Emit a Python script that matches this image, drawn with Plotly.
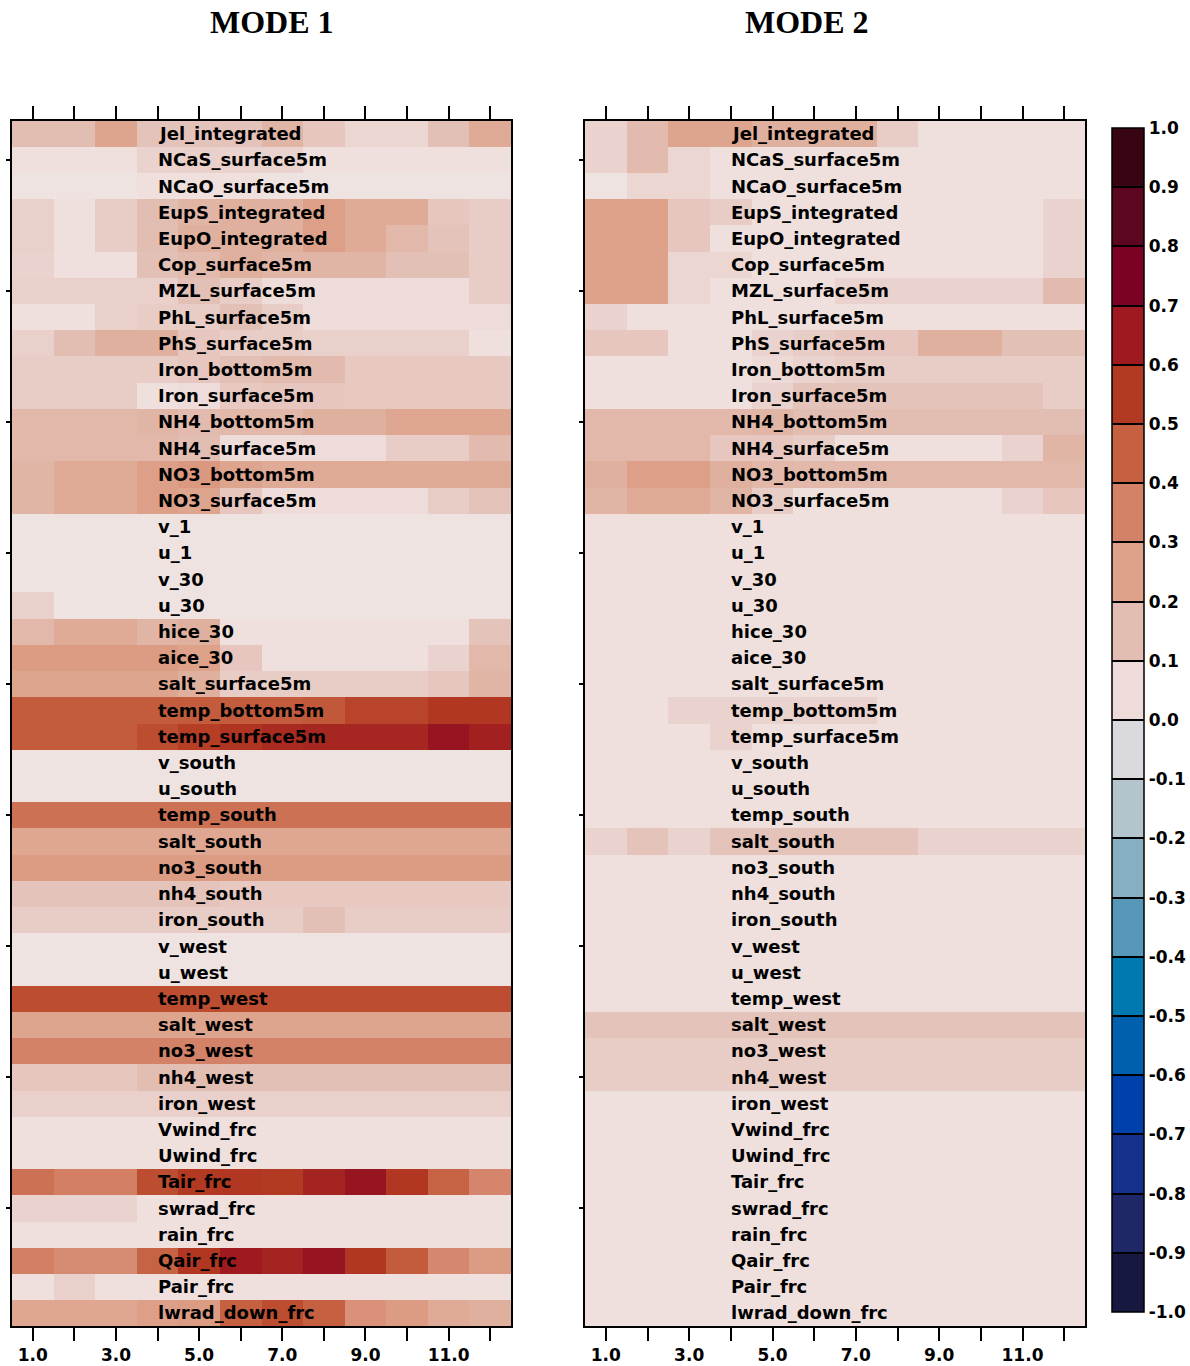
import plotly.graph_objects as go
from plotly.subplots import make_subplots

variables = [
    "Jel_integrated", "NCaS_surface5m", "NCaO_surface5m", "EupS_integrated", "EupO_integrated",
    "Cop_surface5m", "MZL_surface5m", "PhL_surface5m", "PhS_surface5m", "Iron_bottom5m",
    "Iron_surface5m", "NH4_bottom5m", "NH4_surface5m", "NO3_bottom5m", "NO3_surface5m",
    "v_1", "u_1", "v_30", "u_30", "hice_30", "aice_30", "salt_surface5m", "temp_bottom5m",
    "temp_surface5m", "v_south", "u_south", "temp_south", "salt_south", "no3_south",
    "nh4_south", "iron_south", "v_west", "u_west", "temp_west", "salt_west", "no3_west",
    "nh4_west", "iron_west", "Vwind_frc", "Uwind_frc", "Tair_frc", "swrad_frc", "rain_frc",
    "Qair_frc", "Pair_frc", "lwrad_down_frc",
]
months = [1, 2, 3, 4, 5, 6, 7, 8, 9, 10, 11, 12]
xtick_vals = [1, 3, 5, 7, 9, 11]
xtick_text = ["1.0", "3.0", "5.0", "7.0", "9.0", "11.0"]

mode1 = [
    [0.15, 0.15, 0.24, 0.13, 0.13, 0.13, 0.18, 0.12, 0.07, 0.07, 0.14, 0.22],
    [0.04, 0.04, 0.04, 0.08, 0.09, 0.08, 0.08, 0.04, 0.04, 0.04, 0.04, 0.04],
    [0.03, 0.03, 0.03, 0.04, 0.04, 0.04, 0.03, 0.03, 0.03, 0.03, 0.03, 0.03],
    [0.09, 0.04, 0.10, 0.15, 0.18, 0.20, 0.20, 0.26, 0.22, 0.22, 0.12, 0.10],
    [0.09, 0.04, 0.10, 0.15, 0.20, 0.20, 0.20, 0.26, 0.22, 0.17, 0.13, 0.10],
    [0.08, 0.04, 0.04, 0.14, 0.16, 0.20, 0.18, 0.18, 0.18, 0.14, 0.14, 0.10],
    [0.09, 0.09, 0.09, 0.09, 0.14, 0.10, 0.05, 0.05, 0.05, 0.05, 0.05, 0.10],
    [0.04, 0.04, 0.09, 0.10, 0.10, 0.14, 0.10, 0.05, 0.05, 0.05, 0.05, 0.05],
    [0.09, 0.15, 0.20, 0.20, 0.12, 0.10, 0.10, 0.09, 0.09, 0.09, 0.09, 0.04],
    [0.10, 0.10, 0.10, 0.10, 0.12, 0.14, 0.16, 0.16, 0.11, 0.11, 0.11, 0.11],
    [0.10, 0.10, 0.10, 0.04, 0.05, 0.11, 0.12, 0.12, 0.11, 0.11, 0.11, 0.11],
    [0.17, 0.17, 0.17, 0.18, 0.16, 0.17, 0.17, 0.20, 0.20, 0.23, 0.23, 0.23],
    [0.17, 0.17, 0.17, 0.17, 0.15, 0.05, 0.05, 0.05, 0.05, 0.10, 0.10, 0.16],
    [0.18, 0.22, 0.22, 0.26, 0.28, 0.24, 0.22, 0.22, 0.22, 0.22, 0.22, 0.22],
    [0.18, 0.22, 0.22, 0.26, 0.24, 0.12, 0.05, 0.05, 0.05, 0.05, 0.10, 0.13],
    [0.03, 0.03, 0.03, 0.03, 0.03, 0.03, 0.03, 0.03, 0.03, 0.03, 0.03, 0.03],
    [0.03, 0.03, 0.03, 0.03, 0.03, 0.03, 0.03, 0.03, 0.03, 0.03, 0.03, 0.03],
    [0.03, 0.03, 0.03, 0.03, 0.03, 0.03, 0.03, 0.03, 0.03, 0.03, 0.03, 0.03],
    [0.09, 0.03, 0.03, 0.03, 0.03, 0.03, 0.03, 0.03, 0.03, 0.03, 0.03, 0.03],
    [0.17, 0.22, 0.22, 0.18, 0.20, 0.04, 0.04, 0.04, 0.04, 0.04, 0.04, 0.13],
    [0.27, 0.27, 0.27, 0.27, 0.25, 0.12, 0.04, 0.04, 0.04, 0.04, 0.08, 0.17],
    [0.24, 0.24, 0.24, 0.24, 0.20, 0.10, 0.10, 0.10, 0.10, 0.10, 0.12, 0.18],
    [0.46, 0.46, 0.46, 0.46, 0.46, 0.46, 0.46, 0.47, 0.52, 0.52, 0.56, 0.56],
    [0.46, 0.46, 0.46, 0.50, 0.54, 0.57, 0.60, 0.61, 0.61, 0.61, 0.67, 0.63],
    [0.03, 0.03, 0.03, 0.03, 0.03, 0.03, 0.03, 0.03, 0.03, 0.03, 0.03, 0.03],
    [0.03, 0.03, 0.03, 0.03, 0.03, 0.03, 0.03, 0.03, 0.03, 0.03, 0.03, 0.03],
    [0.40, 0.40, 0.40, 0.40, 0.40, 0.40, 0.40, 0.40, 0.40, 0.40, 0.40, 0.40],
    [0.23, 0.23, 0.23, 0.23, 0.23, 0.23, 0.23, 0.23, 0.23, 0.23, 0.23, 0.23],
    [0.27, 0.27, 0.27, 0.27, 0.27, 0.27, 0.27, 0.27, 0.27, 0.27, 0.27, 0.27],
    [0.13, 0.13, 0.13, 0.13, 0.13, 0.11, 0.11, 0.11, 0.11, 0.11, 0.11, 0.11],
    [0.10, 0.10, 0.10, 0.10, 0.10, 0.10, 0.10, 0.14, 0.10, 0.10, 0.10, 0.10],
    [0.03, 0.03, 0.03, 0.03, 0.03, 0.03, 0.03, 0.03, 0.03, 0.03, 0.03, 0.03],
    [0.03, 0.03, 0.03, 0.03, 0.03, 0.03, 0.03, 0.03, 0.03, 0.03, 0.03, 0.03],
    [0.50, 0.50, 0.50, 0.50, 0.50, 0.50, 0.50, 0.50, 0.50, 0.50, 0.50, 0.50],
    [0.24, 0.24, 0.24, 0.24, 0.24, 0.24, 0.24, 0.24, 0.24, 0.24, 0.24, 0.24],
    [0.35, 0.35, 0.35, 0.35, 0.35, 0.35, 0.35, 0.35, 0.35, 0.35, 0.35, 0.35],
    [0.12, 0.12, 0.12, 0.15, 0.15, 0.14, 0.14, 0.14, 0.14, 0.14, 0.14, 0.14],
    [0.09, 0.09, 0.09, 0.09, 0.09, 0.09, 0.09, 0.09, 0.09, 0.09, 0.09, 0.09],
    [0.04, 0.04, 0.04, 0.04, 0.04, 0.04, 0.04, 0.04, 0.04, 0.04, 0.04, 0.04],
    [0.04, 0.04, 0.04, 0.04, 0.04, 0.04, 0.04, 0.04, 0.04, 0.04, 0.04, 0.04],
    [0.40, 0.36, 0.36, 0.50, 0.55, 0.56, 0.55, 0.62, 0.67, 0.56, 0.44, 0.34],
    [0.08, 0.08, 0.08, 0.04, 0.04, 0.04, 0.04, 0.04, 0.04, 0.04, 0.04, 0.04],
    [0.04, 0.04, 0.04, 0.04, 0.04, 0.04, 0.04, 0.04, 0.04, 0.04, 0.04, 0.04],
    [0.36, 0.32, 0.32, 0.44, 0.56, 0.65, 0.62, 0.67, 0.56, 0.46, 0.33, 0.27],
    [0.04, 0.09, 0.04, 0.04, 0.04, 0.04, 0.04, 0.04, 0.04, 0.04, 0.04, 0.04],
    [0.23, 0.23, 0.23, 0.26, 0.27, 0.45, 0.50, 0.45, 0.30, 0.27, 0.22, 0.20],
]

mode2 = [
    [0.08, 0.16, 0.24, 0.24, 0.20, 0.20, 0.20, 0.10, 0.04, 0.04, 0.04, 0.04],
    [0.08, 0.16, 0.07, 0.04, 0.04, 0.04, 0.04, 0.04, 0.04, 0.04, 0.04, 0.04],
    [0.03, 0.07, 0.07, 0.04, 0.04, 0.04, 0.04, 0.04, 0.04, 0.04, 0.04, 0.04],
    [0.25, 0.25, 0.12, 0.10, 0.04, 0.04, 0.04, 0.04, 0.04, 0.04, 0.04, 0.08],
    [0.25, 0.25, 0.12, 0.04, 0.04, 0.04, 0.04, 0.04, 0.04, 0.04, 0.04, 0.08],
    [0.25, 0.25, 0.07, 0.07, 0.04, 0.04, 0.04, 0.04, 0.04, 0.04, 0.04, 0.08],
    [0.25, 0.25, 0.07, 0.04, 0.04, 0.04, 0.08, 0.08, 0.08, 0.08, 0.08, 0.16],
    [0.08, 0.04, 0.04, 0.04, 0.04, 0.04, 0.04, 0.04, 0.04, 0.04, 0.04, 0.04],
    [0.12, 0.12, 0.04, 0.04, 0.08, 0.10, 0.12, 0.12, 0.20, 0.20, 0.14, 0.14],
    [0.04, 0.04, 0.04, 0.04, 0.06, 0.08, 0.10, 0.10, 0.10, 0.10, 0.10, 0.10],
    [0.04, 0.04, 0.04, 0.04, 0.08, 0.13, 0.13, 0.13, 0.13, 0.13, 0.13, 0.10],
    [0.17, 0.17, 0.17, 0.17, 0.18, 0.15, 0.15, 0.15, 0.15, 0.15, 0.15, 0.15],
    [0.17, 0.17, 0.17, 0.12, 0.12, 0.10, 0.04, 0.04, 0.04, 0.04, 0.08, 0.18],
    [0.20, 0.26, 0.26, 0.20, 0.17, 0.17, 0.17, 0.17, 0.17, 0.17, 0.17, 0.17],
    [0.18, 0.22, 0.22, 0.18, 0.10, 0.04, 0.04, 0.04, 0.04, 0.04, 0.08, 0.12],
    [0.04, 0.04, 0.04, 0.04, 0.04, 0.04, 0.04, 0.04, 0.04, 0.04, 0.04, 0.04],
    [0.04, 0.04, 0.04, 0.04, 0.04, 0.04, 0.04, 0.04, 0.04, 0.04, 0.04, 0.04],
    [0.04, 0.04, 0.04, 0.04, 0.04, 0.04, 0.04, 0.04, 0.04, 0.04, 0.04, 0.04],
    [0.04, 0.04, 0.04, 0.04, 0.04, 0.04, 0.04, 0.04, 0.04, 0.04, 0.04, 0.04],
    [0.04, 0.04, 0.04, 0.04, 0.04, 0.04, 0.04, 0.04, 0.04, 0.04, 0.04, 0.04],
    [0.04, 0.04, 0.04, 0.04, 0.04, 0.04, 0.04, 0.04, 0.04, 0.04, 0.04, 0.04],
    [0.04, 0.04, 0.04, 0.04, 0.04, 0.04, 0.04, 0.04, 0.04, 0.04, 0.04, 0.04],
    [0.04, 0.04, 0.08, 0.08, 0.08, 0.08, 0.08, 0.04, 0.04, 0.04, 0.04, 0.04],
    [0.04, 0.04, 0.04, 0.08, 0.04, 0.04, 0.04, 0.04, 0.04, 0.04, 0.04, 0.04],
    [0.04, 0.04, 0.04, 0.04, 0.04, 0.04, 0.04, 0.04, 0.04, 0.04, 0.04, 0.04],
    [0.04, 0.04, 0.04, 0.04, 0.04, 0.04, 0.04, 0.04, 0.04, 0.04, 0.04, 0.04],
    [0.04, 0.04, 0.04, 0.04, 0.04, 0.04, 0.04, 0.04, 0.04, 0.04, 0.04, 0.04],
    [0.08, 0.13, 0.08, 0.13, 0.13, 0.13, 0.13, 0.13, 0.08, 0.08, 0.08, 0.08],
    [0.04, 0.04, 0.04, 0.04, 0.04, 0.04, 0.04, 0.04, 0.04, 0.04, 0.04, 0.04],
    [0.04, 0.04, 0.04, 0.04, 0.04, 0.04, 0.04, 0.04, 0.04, 0.04, 0.04, 0.04],
    [0.04, 0.04, 0.04, 0.04, 0.04, 0.04, 0.04, 0.04, 0.04, 0.04, 0.04, 0.04],
    [0.04, 0.04, 0.04, 0.04, 0.04, 0.04, 0.04, 0.04, 0.04, 0.04, 0.04, 0.04],
    [0.04, 0.04, 0.04, 0.04, 0.04, 0.04, 0.04, 0.04, 0.04, 0.04, 0.04, 0.04],
    [0.04, 0.04, 0.04, 0.04, 0.04, 0.04, 0.04, 0.04, 0.04, 0.04, 0.04, 0.04],
    [0.13, 0.13, 0.13, 0.13, 0.13, 0.13, 0.13, 0.13, 0.13, 0.13, 0.13, 0.13],
    [0.10, 0.10, 0.10, 0.10, 0.10, 0.10, 0.10, 0.10, 0.10, 0.10, 0.10, 0.10],
    [0.10, 0.10, 0.10, 0.10, 0.10, 0.10, 0.10, 0.10, 0.10, 0.10, 0.10, 0.10],
    [0.04, 0.04, 0.04, 0.04, 0.04, 0.04, 0.04, 0.04, 0.04, 0.04, 0.04, 0.04],
    [0.04, 0.04, 0.04, 0.04, 0.04, 0.04, 0.04, 0.04, 0.04, 0.04, 0.04, 0.04],
    [0.04, 0.04, 0.04, 0.04, 0.04, 0.04, 0.04, 0.04, 0.04, 0.04, 0.04, 0.04],
    [0.04, 0.04, 0.04, 0.04, 0.04, 0.04, 0.04, 0.04, 0.04, 0.04, 0.04, 0.04],
    [0.04, 0.04, 0.04, 0.04, 0.04, 0.04, 0.04, 0.04, 0.04, 0.04, 0.04, 0.04],
    [0.04, 0.04, 0.04, 0.04, 0.04, 0.04, 0.04, 0.04, 0.04, 0.04, 0.04, 0.04],
    [0.04, 0.04, 0.04, 0.04, 0.04, 0.04, 0.04, 0.04, 0.04, 0.04, 0.04, 0.04],
    [0.04, 0.04, 0.04, 0.04, 0.04, 0.04, 0.04, 0.04, 0.04, 0.04, 0.04, 0.04],
    [0.04, 0.04, 0.04, 0.04, 0.04, 0.04, 0.04, 0.04, 0.04, 0.04, 0.04, 0.04],
]

titles = ["MODE 1", "MODE 2"]

# colours of the 20 colorbar levels, from -1.0 (bottom) to 1.0 (top)
level_colors = [
    "#161840", "#1e2866", "#15308a", "#0040ab", "#0060ae",
    "#0079b0", "#5797b8", "#87afc2", "#b3c4cc", "#d9d9de",
    "#eedcda", "#e2bdb2", "#dea28a", "#d38268", "#c56040",
    "#b33a22", "#9e1a20", "#7c0224", "#5c0620", "#3a0512",
]
cbar_vals = [round(-1 + 0.1 * i, 1) for i in range(21)]
cbar_text = ["%.1f" % v for v in cbar_vals]

# continuous scale (cells) through the level colours at their centres
cont_scale = [[0.0, "#121433"]]
for i, c in enumerate(level_colors):
    cont_scale.append([(i + 0.5) / 20, c])
    if i == 9:
        cont_scale.append([0.5, "#f1eeed"])
cont_scale.append([1.0, "#300410"])

disc_scale = []
for i, c in enumerate(level_colors):
    disc_scale.append([i / 20, c])
    disc_scale.append([(i + 1) / 20, c])

fig = make_subplots(rows=1, cols=2)

for k, data in enumerate([mode1, mode2]):
    fig.add_trace(go.Heatmap(
        z=data, x=months, y=variables,
        colorscale=cont_scale, zmin=-1, zmax=1, showscale=False,
    ), row=1, col=k + 1)

# dummy trace carrying the stepped colorbar
fig.add_trace(go.Scatter(
    x=[None, None], y=[None, None], mode="markers", showlegend=False,
    marker=dict(
        color=[-1, 1], cmin=-1, cmax=1, colorscale=disc_scale, showscale=True,
        colorbar=dict(
            x=1112 / 1190, xanchor="left", xref="container",
            y=(1366 - 720) / 1366, yanchor="middle", yref="container",
            len=1184 / 1366, lenmode="fraction",
            thickness=32, thicknessmode="pixels",
            outlinecolor="black", outlinewidth=1.5,
            tickmode="array", tickvals=cbar_vals, ticktext=cbar_text,
            ticks="inside", ticklen=32, tickwidth=1.5, tickcolor="black",
            tickfont=dict(family="DejaVu Sans", size=17, color="black", weight="bold"),
            ypad=0, xpad=0,
        ),
    ),
), row=1, col=1)

text_font = dict(family="DejaVu Sans", size=18, color="black", weight="bold")
for k in range(2):
    xref = "x" if k == 0 else "x2"
    yref = "y" if k == 0 else "y2"
    for name in variables:
        fig.add_annotation(x=3.96, y=name, xref=xref, yref=yref, text=name,
                           showarrow=False, xanchor="left", yanchor="middle",
                           font=text_font)

domains = [[12 / 1190, 511 / 1190], [585 / 1190, 1085 / 1190]]
for k in range(2):
    fig.update_xaxes(
        domain=domains[k], range=[0.5, 12.5], tickmode="array",
        tickvals=months,
        ticktext=[xtick_text[xtick_vals.index(m)] if m in xtick_vals else "" for m in months],
        ticks="outside", ticklen=13, tickwidth=2, tickcolor="black",
        showline=True, linecolor="black", linewidth=2, mirror="ticks",
        showgrid=False, zeroline=False,
        tickfont=dict(family="DejaVu Sans", size=17, color="black", weight="bold"),
        row=1, col=k + 1,
    )
    fig.update_yaxes(
        domain=[(1366 - 1326) / 1366, (1366 - 120.5) / 1366],
        autorange="reversed", type="category",
        tickmode="array", tickvals=variables[1::5], ticktext=[""] * len(variables[1::5]),
        ticks="outside", ticklen=4, tickwidth=1.5, tickcolor="black",
        showline=True, linecolor="black", linewidth=2, mirror=True,
        showgrid=False, zeroline=False, showticklabels=True,
        row=1, col=k + 1,
    )

title_x = [272 / 1190, 807 / 1190]
for k, t in enumerate(titles):
    fig.add_annotation(x=title_x[k], y=(1366 - 22) / 1366, xref="paper", yref="paper",
                       text="<b>%s</b>" % t, showarrow=False, xanchor="center",
                       yanchor="middle",
                       font=dict(family="Liberation Serif", size=32, color="black"))

fig.update_layout(
    width=1190, height=1366, margin=dict(l=0, r=0, t=0, b=0, autoexpand=False),
    paper_bgcolor="white", plot_bgcolor="white", showlegend=False,
)

fig.write_html("out.html")
